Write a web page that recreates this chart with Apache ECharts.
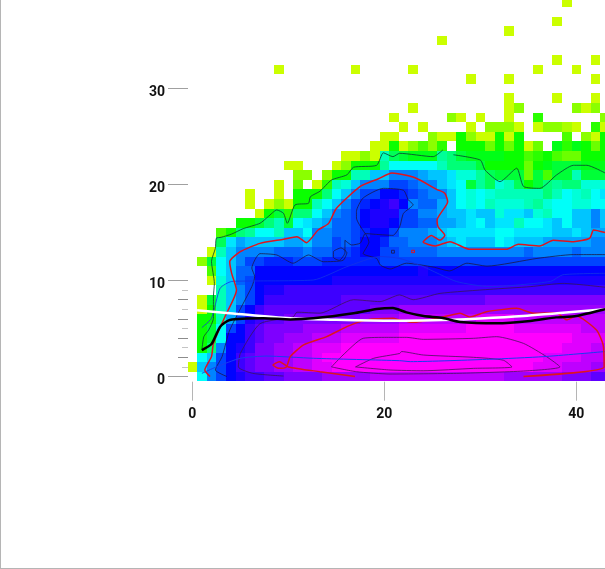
<!DOCTYPE html>
<html>
<head>
<meta charset="utf-8">
<style>
  html, body { margin: 0; padding: 0; background: #fff; overflow: hidden; width: 605px; height: 569px; }
  #main { position: absolute; left: 0; top: -20px; width: 800px; height: 589px; }
</style>
<script src="https://cdn.jsdelivr.net/npm/echarts@6/dist/echarts.min.js"></script>
</head>
<body>
<div id="main"></div>
<script>
const _ = null;

// density level per cell. 1 = yellow-green ... 16 = magenta
// rowStart gives the column where each row begins
const rowStart = [1, 0, 1, 1, 1, 1, 1, 1, 1, 3, 2, 2, 1, 2, 3, 3, 5, 7, 6, 6, 9, 11, 10, 16, 19, 20, 22, 21, 23, 33, 0, 29, 9, 38, 0, 26, 33, 38, 0, 39];
const row00 = [8,10,11,12,12.5,13,13,13.5,13.5,14,14,14,14,14.5,14.5,14.5,14.5,14.5,15,15,15,15,15,15,15,15,15,15,15,15,15,15,14.5,14.5,14.5,14.5,14.5,14.5,14,14,14,13.5,13.5];
const row01 = [1,9,10,11,12,13,13.5,14,14,14.5,14.5,15,15,15.5,15.5,16,16,16,16,16,16,16,16,16,16,16,16,16,16,16,16,16,16,16,16,16,15.5,15.5,15.5,15,15,15,14.5,14.5];
const row02 = [8,9,11,12,13,13.5,14,14,14.5,14.5,15,15,15.5,16,16,16,16,16,16,16,16,16,16,16,16,16,16,16,16,16,16,16,16,16,16,16,15.5,15.5,15.5,15.5,15,15,15];
const row03 = [4,6,10,12,12.5,13,14,14,14.5,14.5,15,15,15.5,15.5,15.5,16,16,16,16,16,16,16,16,16,16,16,16,16,16,16,16,16,16,16,16,16,16,16,15.5,15.5,15.5,15,15];
const row04 = [4,5,8,12,12,13,13.5,14,14,14.5,14.5,14.5,15,15,15,15.5,15.5,15.5,15.5,15.5,15.5,16,16,16,16,16,16,16,16,16,16,16,16,16,16,16,16,16,16,15.5,15.5,15.5,15.5];
const row05 = [4,5,8,11,12,13,13.5,14,14,14,14,14.5,14.5,14.5,14.5,15,15,15,15,15,15,15.5,15.5,15.5,15.5,15.5,15.5,15.5,16,16,16,16,16,15.5,15.5,15.5,15.5,15.5,15.5,15.5,15,15,15];
const row06 = [4,4,7,9.5,11,12.5,13,13.5,13.5,14,14,14,14,14,14,14,14,14.5,14.5,14.5,14.5,15,15,15,15,15,15,15,15,15.5,15.5,15.5,15.5,15,15,15,15,15,15,15,15,15,15];
const row07 = [1,4,7,9,11,12,13,13.5,13.5,13.5,13.5,13.5,13.5,13.5,13.5,13.5,13.5,13.5,14,14,14,14.5,14.5,14.5,14.5,14.5,14.5,14.5,14.5,14.5,14.5,14.5,14.5,14.5,14.5,14.5,14.5,14.5,14.5,14.5,14.5,14.5,14.5];
const row08 = [1,5,7,9,10,11,12,13,13,13,13,13,13,13,13,13.5,13.5,13.5,13.5,13.5,13.5,13.5,13.5,13.5,13.5,13.5,13.5,13.5,13.5,13.5,14,14,14,14,14,14,14,14,14,14,14,14,14];
const row09 = [7,9,10,11,12,12.5,12.5,13,13,13,13,13,13,13,13,13,13,13,13,13,13,13,13,13,13,13,13,13,13,13,13,13,13,13,13,13,13,13,13,13,13];
const row10 = [1,7.5,9,10.5,11,12,12,12,12,12,12,12,12,12.5,12.5,12.5,12.5,12.5,12.5,12.5,12.5,12.5,12.5,12.5,12.5,12.5,12.5,12.5,12.5,12.5,12.5,12.5,12.5,12.5,12.5,12.5,12.5,12.5,12.5,12.5,12.5,12.5];
const row11 = [3,8,9,10.5,10.5,12,12,12,12,12,12,12,12,12,12,12,12,12,12,12,12,12,12.5,12,12,12,12,12,12,12,12,12,12,12,12,12,12,12,12,12,12,12];
const row12 = [2,5,8,9,10,11,11,11.5,11.5,11.5,11,11,11,11.5,11.5,11.5,11.5,11.5,11.5,11,11,11,11,11,11,11,11,11,11,11,11,11,11,11,11,11,11,11,11,11,11,11,11];
const row13 = [1,7,9,10,10,10,10,10.5,10.5,10.5,10,10.5,10.5,11,11,11.5,12,12,11,11,10.5,10.5,10.5,10.5,10,10,10,10,10,10,10,10,10,10.5,10,10,10,10,10.5,10,10,10];
const row14 = [5.5,8.5,9.5,9,9,9,9,9.5,9.5,9,10,10,11,10.5,11,12,12,11.5,10.5,10.5,10,10,10,9.5,9,8.5,9,9,9,8,8.5,9,9,9,9.5,9.5,9.5,9.5,9.5,10,10];
const row15 = [3,4,6,6.5,8,8,7,9,9,8,10,10,10.5,10.5,11,11.5,12,12,11,10,10,10,9.5,9,8.5,8.5,8.5,8.5,8.5,8,8,8.5,8.5,8.5,8.5,9,9,8.5,9,9.5,9.5];
const row16 = [4,4,5,6,7,5,8,8.5,9,9.5,10.5,10.5,11,12,12.5,12.5,12,11,11,10.5,10.5,9.5,9.5,9,8.5,8,9,8.5,8.5,7,8,8,8.5,9,8,9,9,10,9];
const row17 = [1,4,5,3.5,6,6,8,9,10,10.5,11,12,12.5,12.5,12.5,11,11,10,10,9.5,9,9,8.5,9,9,7.5,8.5,8.5,9,7.5,7,8,8,9,9,10,9];
const row18 = [1,_,1,2,1,4,4,7,8,9,10,11,11.5,12,12.5,13,12,10,10.5,10.5,9.5,9,8,7.5,8,7,7.5,7.5,7.5,7,6.5,7.5,8,8,7.5,7.5,8,8];
const row19 = [1,_,_,1,_,4,4,4,6,8,9,10,11,11,12,12,11.5,11,10.5,10,10,9,8,7.5,8,7.5,7,7,7,7,7,6,7,8,7.5,7,8,8.5];
const row20 = [1,_,2.5,_,1,3.5,7,7.5,9,10,10,10,11,11,10.5,10,10,9,8.5,8,5,6.5,5.5,7.5,7,5.5,4,5,6,6.5,6,6,7.5,7.5,7.5];
const row21 = [2,2,_,2,4,4,7,7,9,9,10,10,10,9.5,9,9,8.5,7.5,7.5,6.5,5.5,5,5,5,2.5,5,3,5,5,7,5,5,5];
const row22 = [1,1,_,_,_,1,2,4,4,4,6.5,8,8,8,8,8,7,6,6,6,5,4,4,4,4,2.5,4,4.5,5,5,5,4.5,4.5,4.5];
const row23 = [1,1,2,1,7,5.5,5,4.5,4.5,4.5,6.5,6,5,4.5,4.5,4.5,4.5,4,4,3,3.5,4,3,2.5,2.5,4,4,4];
const row24 = [1,1,4,1,2,3,2,3.5,_,4,4,4,2.5,4,2.5,4,1,2.5,_,4.5,3.5,4.5,4,2.5,4];
const row25 = [1,1,_,_,_,2,1,1,4,2,1,1,4,1,4,_,_,_,_,3,_,2,1,4];
const row26 = [1,_,1,_,_,_,_,1,_,2,2,2,1,_,1,2,2,1.5,1,_,3.5,1];
const row27 = [1,_,_,_,_,_,2,1,_,1,_,_,1,_,_,3.5,_,_,_,_,_,_,2];
const row28 = [1,_,_,_,_,_,_,_,_,_,1,2,_,_,_,_,_,2,1,2];
const row29 = [1,_,_,_,_,1,_,_,_,1];
const row30 = [];
const row31 = [1,_,_,_,1,_,_,_,_,_,_,_,_,1];
const row32 = [1,_,_,_,_,_,_,_,1,_,_,_,_,_,1,_,_,_,_,_,_,_,_,_,_,_,_,1,_,_,_,1];
const row33 = [1,_,_,_,1];
const row34 = [];
const row35 = [1];
const row36 = [1];
const row37 = [1];
const row38 = [];
const row39 = [1];
const rows = [row00,row01,row02,row03,row04,row05,row06,row07,row08,row09,
  row10,row11,row12,row13,row14,row15,row16,row17,row18,row19,
  row20,row21,row22,row23,row24,row25,row26,row27,row28,row29,
  row30,row31,row32,row33,row34,row35,row36,row37,row38,row39];

// contour and trend lines, [x, y] in axis units
const whiteLine = [[0.5,6.9],[3.9,6.6],[10.2,6.06],[15,5.9],[21,5.8],[25,5.85],[30,6.05],[34.5,6.3],[38,6.6],[43,7.0]];
const blackLine = [[1,2.76],[2,3.38],[2.9,5.19],[3.9,5.89],[7.4,6.06],[10.2,5.95],[12.6,6.06],[16.8,6.58],[19.2,7.03],[20.9,7.14],[22.3,6.68],[24.1,6.3],[26.1,6.1],[27.9,5.68],[31.7,5.54],[35.2,5.78],[37.9,6.16],[40,6.3],[43,7.0]];
const redUpper = [[1.85,0],[1.3,0.68],[2,2.07],[2.2,3.45],[3.4,6.23],[4.6,9],[4.1,10.75],[3.9,11.96],[5,13],[7.05,13.87],[9.5,14.3],[10.9,14.57],[11.9,13.94],[13.1,15.26],[14.2,15.95],[15,17.5],[17.5,19.8],[19.4,20.6],[20.8,21.2],[23.2,20.7],[25.45,19.5],[26.3,19.1],[26.6,18.2],[25.5,16.3],[25.6,15.6],[26.3,14.7],[25.8,14.2],[24.9,14.7],[24.05,14],[25.3,13.6],[26.84,14.04],[28.9,13.25],[32.7,13.25],[33.96,13.77],[36.2,13.6],[37.6,14.2],[39.7,14.05],[41.4,14.4],[41.8,15.26],[43,15]];
const redLower = [[16.95,0],[13.3,0.5],[10,1],[9.1,1.55],[8.4,1.2],[9,0.85],[9.8,1],[10.2,2.07],[11.6,3.3],[14,4.15],[16.1,5.2],[18.2,5.9],[20.9,6.06],[21.6,5.9],[23,5.64],[26.1,6.2],[27.9,6.6],[28.9,6.2],[30.66,6.75],[33.8,7.1],[35.5,6.6],[37.95,6.65],[39,5.9],[40,6.3],[42.1,4.84],[42.8,3.28],[42.9,1],[34.5,0]];
const redDot = [[22.85,12.9],[23.15,12.9],[23.15,13.15],[22.85,13.15],[22.85,12.9]];
const blueUpper = [[1,5.1],[2,6.06],[2.9,9.2],[4.1,9.9],[6.5,9.95],[12.6,10.05],[16.1,11.44],[19.55,12.5],[21.6,12.3],[24.06,11.44],[27.5,9.9],[31,9.36],[37.3,9.9],[38.6,10.6],[43,10.75]];
const blueLower = [[1,0.33],[2.5,1],[5,1.9],[7.75,2.13],[12.6,1.9],[21.6,1.65],[22.7,1.55],[31,1.8],[36.6,2.07],[43,2.6]];
const outerContour = [[1,2.76],[1.2,4.15],[1.7,4.84],[2.2,6.06],[2.2,8.3],[2.3,9.7],[2,12],[2.4,13.35],[2.5,14.4],[3,14.5],[4.1,14.84],[5.3,15.4],[7.05,15.96],[7.9,16.65],[8.8,17.35],[9.5,17],[9.9,15.96],[10.7,17.87],[12.1,18.04],[12.3,18.73],[13.3,19.3],[14.5,20.47],[16.1,21],[16.8,21.8],[19.2,22],[19.9,23.3],[20.9,22.9],[21.6,23.25],[25.1,22.9],[26.1,23.6]];
const outerContourRight = [[27.2,23.1],[30,22.55],[30.5,21.5],[32.05,20.3],[33.8,21.7],[34.5,19.8],[36.2,19.6],[37.95,21],[39.7,22],[41.1,22],[43,21.2]];
const innerContour = [[3.6,0],[2.4,0.68],[3.1,2.07],[3.9,4.84],[6.2,9.36],[6.5,10.4],[6.2,11.3],[7.05,12.8],[8.8,12.66],[10.5,11.8],[12.1,12.66],[13.65,11.96],[15.7,12.1],[16.1,12.9],[15.5,13.4],[14.7,13],[14.7,12.4],[15.3,12.1],[15.9,12.9],[15.9,14.2],[16.6,13.7],[17.5,13.9],[18,14.9],[18.4,14],[17.8,12.8],[19.2,12.3],[19.6,11.6],[20.6,11.2],[22.3,11.8],[25.1,11.4],[26.8,11],[28.6,11.8],[30.7,11.5],[35.9,12.3],[39.7,12.7],[43,12.7]];
const blobContour = [[18,14.9],[17.1,16.5],[17.1,17.2],[17.8,18.6],[19.9,19.6],[22,19.4],[22.5,18.4],[23,17.9],[22,17],[21.6,15.6],[20.9,14.7],[19.2,14.8],[18,14.9]];
const tinyContour = [[20.75,12.85],[21.05,12.85],[21.05,13.15],[20.75,13.15],[20.75,12.85]];
const purpleOuter = [[9.5,0.05],[6.3,0.33],[4.8,1],[5,2.4],[7.05,5.5],[10.5,6.2],[10.9,6.7],[13.3,6.6],[16.8,8],[19.55,7.8],[21.6,8.5],[23,8],[25.8,8.66],[31,9.08],[35.2,9.36],[38.6,9.7],[43,9.3]];
const purpleMiddle = [[14.5,1],[15.7,2.24],[17.8,3.98],[20.25,4.08],[22.3,4.08],[24.06,3.87],[29.3,3.98],[31.7,4.15],[34.5,3.45],[36.9,2.07],[38.3,1],[34.5,0.57],[27.5,0.33],[20.6,0.26],[17.1,0.5],[14.5,1]];
const purpleInner = [[17,1],[18.9,1.9],[21.6,2.4],[21.8,2.6],[24.06,2.24],[29.3,2],[32.4,1.7],[33.3,1],[29.3,0.85],[24.06,0.6],[20.6,0.68],[17,1]];

const xTicks = [0, 20, 40];
const yTicks = [0, 10, 20, 30];
const yTicksEven = [2, 4, 6, 8];
const yTicksOdd = [1, 3, 5, 7, 9];

const cells = [];
rows.forEach(function (row, y) {
  row.forEach(function (v, i) {
    if (v !== null) cells.push([rowStart[y] + i, y, v]);
  });
});

function drawCell(params, api) {
  var x = api.value(0), y = api.value(1);
  var a = api.coord([x - 0.5, y + 0.5]);
  var b = api.coord([x + 0.5, y - 0.5]);
  var left = Math.round(a[0]), top = Math.round(a[1]);
  return {
    type: 'rect',
    shape: { x: left, y: top, width: Math.round(b[0]) - left, height: Math.round(b[1]) - top },
    style: { fill: api.visual('color') }
  };
}

function lineSeries(data, color, width, smooth) {
  return {
    type: 'line',
    data: data,
    showSymbol: false,
    clip: false,
    smooth: smooth || false,
    lineStyle: { color: color, width: width },
    silent: true,
    z: 5
  };
}

const darkLine = 'rgba(30,20,60,0.75)';
const purpleLine = 'rgba(60,20,80,0.75)';
const greenLine = 'rgba(10,70,50,0.85)';

const labelFont = { color: '#111', fontFamily: 'Roboto', fontWeight: 'bold', fontSize: 14 };
const noLine = { show: false, onZero: false };

var chart = echarts.init(document.getElementById('main'), null, { renderer: 'canvas' });
chart.setOption({
  animation: false,
  backgroundColor: '#fff',
  // the plot runs past the window on the right and the top, the picture is cut there
  // axes start a little below zero so their ticks hang off the cells, like the original
  grid: { left: 188, top: 12.5, width: 580.3, height: 389.2 },
  xAxis: {
    type: 'value', min: -0.448, max: 60,
    splitLine: { show: false },
    axisLine: noLine,
    axisTick: { length: 19, customValues: xTicks, lineStyle: { color: '#b5b5b5', width: 1 } },
    axisLabel: Object.assign({ customValues: xTicks, margin: 26 }, labelFont)
  },
  yAxis: [
    {
      type: 'value', position: 'left', min: -0.54, max: 40,
      splitLine: { show: false },
      axisLine: noLine,
      axisTick: { length: 20, customValues: yTicks, lineStyle: { color: '#a0a0a0', width: 1 } },
      axisLabel: Object.assign({ customValues: yTicks, margin: 23, verticalAlign: 'top', lineHeight: 8 }, labelFont)
    },
    {
      type: 'value', position: 'left', min: -0.54, max: 40,
      splitLine: { show: false },
      axisLine: noLine,
      axisLabel: { show: false },
      axisTick: { length: 10, customValues: yTicksEven, lineStyle: { color: '#8c8c8c', width: 1 } }
    },
    {
      type: 'value', position: 'left', min: -0.54, max: 40,
      splitLine: { show: false },
      axisLine: noLine,
      axisLabel: { show: false },
      axisTick: { length: 6, customValues: yTicksOdd, lineStyle: { color: '#c4c4c4', width: 1 } }
    }
  ],
  visualMap: {
    show: false, seriesIndex: 0, dimension: 2, min: 0.2, max: 16,
    inRange: { color: ['#ffff00', '#00ff00', '#00ffff', '#0000ff', '#ff00ff'] }
  },
  series: [
    { type: 'custom', data: cells, renderItem: drawCell, encode: { x: 0, y: 1 }, clip: false, silent: true, z: 1 },
    lineSeries(outerContour, greenLine, 1, 0.2),
    lineSeries(outerContourRight, greenLine, 1, 0.2),
    lineSeries(innerContour, darkLine, 1, 0.2),
    lineSeries(blobContour, darkLine, 1, 0.2),
    lineSeries(tinyContour, darkLine, 1),
    lineSeries(purpleOuter, purpleLine, 1, 0.2),
    lineSeries(purpleMiddle, purpleLine, 1, 0.2),
    lineSeries(purpleInner, purpleLine, 1, 0.2),
    lineSeries(blueUpper, 'rgba(20,50,230,0.8)', 1, 0.2),
    lineSeries(blueLower, '#1a3cf0', 1, 0.2),
    lineSeries(redUpper, '#e0141e', 1.5, 0.2),
    lineSeries(redLower, '#e0141e', 1.5, 0.2),
    lineSeries(redDot, '#e0141e', 1),
    lineSeries(whiteLine, '#ffffff', 2.5, 0.3),
    lineSeries(blackLine, '#000000', 2.5, 0.2)
  ],
  graphic: [
    { type: 'rect', shape: { x: 0, y: 0, width: 1, height: 589 }, style: { fill: '#b5b5b5' }, silent: true },
    { type: 'rect', shape: { x: 0, y: 588, width: 605, height: 1 }, style: { fill: '#b5b5b5' }, silent: true }
  ]
});
</script>
</body>
</html>
